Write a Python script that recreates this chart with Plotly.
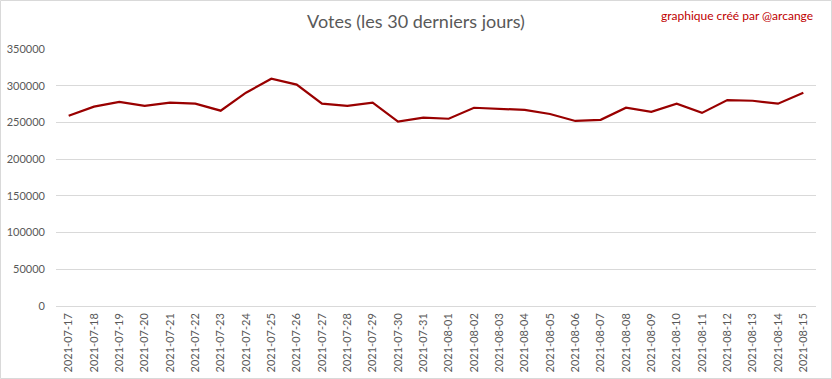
import plotly.graph_objects as go

dates = ["2021-07-17","2021-07-18","2021-07-19","2021-07-20","2021-07-21","2021-07-22",
         "2021-07-23","2021-07-24","2021-07-25","2021-07-26","2021-07-27","2021-07-28",
         "2021-07-29","2021-07-30","2021-07-31","2021-08-01","2021-08-02","2021-08-03",
         "2021-08-04","2021-08-05","2021-08-06","2021-08-07","2021-08-08","2021-08-09",
         "2021-08-10","2021-08-11","2021-08-12","2021-08-13","2021-08-14","2021-08-15"]
votes = [259000, 271500, 278000, 272500, 277000, 275500,
         266000, 290500, 309500, 301500, 275500, 272500,
         277000, 251000, 256500, 255000, 270000, 268500,
         267000, 261500, 252000, 253500, 270000, 264500,
         275500, 263000, 280500, 279500, 275500, 290500]

W, H = 832, 379
ml, mr, mt, mb = 56, 16, 49, 73
pw, ph = W - ml - mr, H - mt - mb

fig = go.Figure()
fig.add_trace(go.Scatter(x=dates, y=votes, mode="lines",
                         line=dict(color="#990000", width=2.2), showlegend=False))

fig.update_layout(
    width=W, height=H,
    margin=dict(l=ml, r=mr, t=mt, b=mb, pad=0, autoexpand=False),
    paper_bgcolor="white", plot_bgcolor="white",
    font=dict(family="Lato, Open Sans, sans-serif", color="#595959", size=11),
    title=dict(text="Votes (les 30 derniers jours)", x=0.5, xanchor="center",
               y=1 - 22 / H, yanchor="middle",
               font=dict(size=18, color="#595959", family="Lato, sans-serif")),
    xaxis=dict(type="category", tickangle=-90, showgrid=False, showline=False,
               ticks="", tickfont=dict(size=11, color="#595959"), automargin=False,
               range=[-0.5, len(dates) - 0.5], ticklabelstandoff=4),
    yaxis=dict(range=[0, 350000], dtick=50000, tickformat="d", automargin=False,
               showgrid=True, gridcolor="#d9d9d9", gridwidth=1,
               zeroline=True, zerolinecolor="#d9d9d9", zerolinewidth=1,
               showline=False, ticks="", tickfont=dict(size=11, color="#595959"),
               ticklabelstandoff=10),
    annotations=[dict(text="graphique créé par @arcange", xref="paper", yref="paper",
                      x=1 + (815 - (W - mr)) / pw, y=1 + (mt - 15) / ph,
                      xanchor="right", yanchor="middle", showarrow=False,
                      font=dict(size=12, color="#C00000", family="Lato, sans-serif"))],
    shapes=[dict(type="rect", xref="paper", yref="paper",
                 x0=-(ml - 0.5) / pw, x1=1 + (mr - 0.5) / pw,
                 y0=-(mb - 0.5) / ph, y1=1 + (mt - 0.5) / ph,
                 line=dict(color="#d9d9d9", width=1), layer="below")],
)

fig.write_html("out.html", config={"displayModeBar": False},
               post_script="document.body.style.margin='0';document.body.style.overflow='hidden';")
